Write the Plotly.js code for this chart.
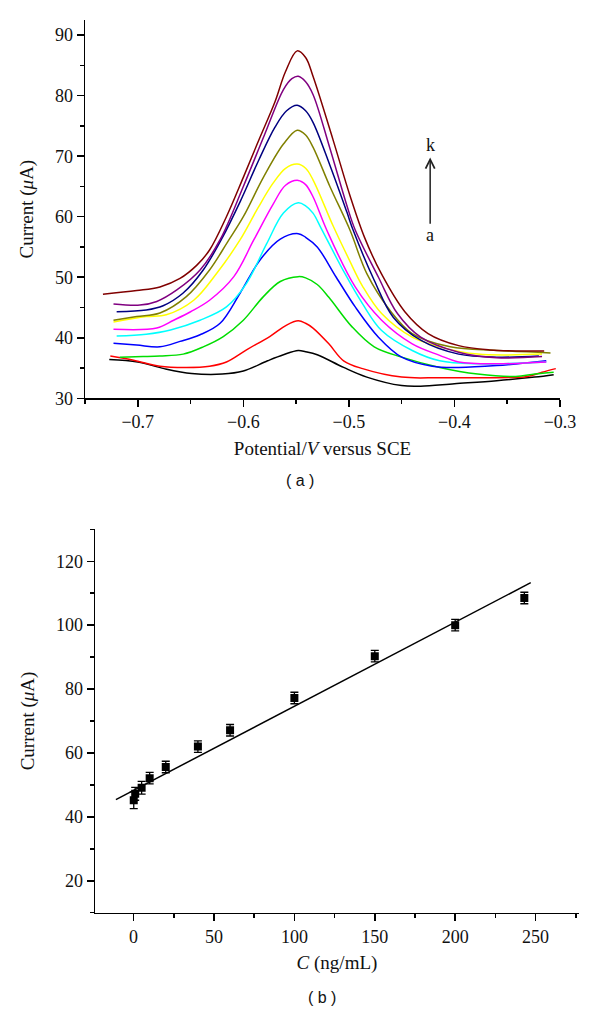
<!DOCTYPE html>
<html>
<head>
<meta charset="utf-8">
<script src="https://cdn.plot.ly/plotly-3.0.1.min.js"></script>
<style>
  body { margin: 0; background: #fff; }
  #chart { width: 600px; height: 1023px; }
</style>
</head>
<body>
<div id="chart"></div>
<script>
// (a) DPV curves a..k, potential (V) vs current (uA)
var xa = [-0.727,-0.700,-0.675,-0.649,-0.620,-0.600,-0.577,-0.562,-0.548,-0.541,-0.530,-0.505,-0.483,-0.450,-0.432,-0.400,-0.360,-0.324,-0.306];
var ya = [36.4,36.0,34.9,34.1,34.0,34.5,36.2,37.2,37.9,37.7,37.2,35.1,33.5,32.1,32.0,32.4,32.9,33.5,33.9];

var xb = [-0.726,-0.704,-0.679,-0.654,-0.632,-0.616,-0.597,-0.575,-0.559,-0.548,-0.541,-0.534,-0.519,-0.505,-0.487,-0.450,-0.414,-0.378,-0.331,-0.317,-0.304];
var yb = [37.0,36.3,35.3,35.1,35.3,36.0,38.0,40.2,42.1,42.8,42.4,41.6,39.0,36.2,34.9,33.5,33.4,33.4,33.6,34.3,34.9];

var xc = [-0.717,-0.695,-0.679,-0.657,-0.638,-0.619,-0.600,-0.581,-0.565,-0.548,-0.541,-0.530,-0.519,-0.497,-0.476,-0.450,-0.414,-0.378,-0.342,-0.324,-0.306];
var yc = [36.8,36.9,37.0,37.3,38.5,40.2,42.9,46.8,49.3,50.1,49.9,48.8,46.7,41.8,38.5,36.8,35.1,34.0,33.6,34.0,34.3];

var xd = [-0.723,-0.701,-0.679,-0.660,-0.641,-0.622,-0.603,-0.584,-0.565,-0.548,-0.541,-0.530,-0.512,-0.494,-0.472,-0.450,-0.421,-0.396,-0.360,-0.313];
var yd = [39.1,38.8,38.5,39.4,40.5,42.4,47.4,52.9,56.3,57.2,56.6,55.0,50.0,45.1,40.1,36.8,35.3,35.1,35.4,36.2];

var xe = [-0.720,-0.692,-0.669,-0.641,-0.616,-0.597,-0.578,-0.562,-0.548,-0.541,-0.534,-0.526,-0.505,-0.487,-0.469,-0.440,-0.414,-0.378,-0.313];
var ye = [40.3,40.6,41.3,42.9,45.1,49.0,55.5,60.6,62.3,61.8,60.6,58.0,51.0,45.6,41.2,37.9,36.2,35.7,36.0];

var xf = [-0.723,-0.682,-0.666,-0.650,-0.632,-0.609,-0.590,-0.572,-0.560,-0.548,-0.541,-0.534,-0.521,-0.494,-0.469,-0.440,-0.414,-0.396,-0.360,-0.313];
var yf = [41.4,41.6,42.9,44.3,46.2,50.1,56.2,62.0,65.2,66.0,65.3,63.3,57.8,48.4,42.9,39.0,37.1,36.0,35.7,36.0];

var xg = [-0.723,-0.692,-0.673,-0.647,-0.625,-0.603,-0.586,-0.572,-0.560,-0.549,-0.541,-0.534,-0.515,-0.500,-0.487,-0.469,-0.440,-0.414,-0.378,-0.317];
var yg = [42.6,43.5,43.8,46.2,50.7,56.2,61.5,65.5,68.0,68.7,68.0,66.1,58.5,53.0,48.5,44.0,40.1,38.5,37.3,37.3];

var xh = [-0.723,-0.701,-0.679,-0.654,-0.632,-0.615,-0.600,-0.581,-0.562,-0.549,-0.541,-0.534,-0.518,-0.499,-0.483,-0.461,-0.440,-0.404,-0.360,-0.309];
var yh = [42.9,43.5,44.1,46.8,51.2,55.8,60.0,66.5,72.0,74.3,73.5,71.5,65.0,57.8,50.6,44.5,40.7,38.5,37.9,37.5];

var xi = [-0.720,-0.692,-0.676,-0.657,-0.638,-0.620,-0.603,-0.585,-0.570,-0.559,-0.549,-0.541,-0.534,-0.518,-0.502,-0.496,-0.476,-0.458,-0.432,-0.396,-0.360,-0.320];
var yi = [44.3,44.6,45.3,47.4,51.2,56.5,62.5,69.5,74.8,77.5,78.4,77.5,75.6,68.5,60.8,57.8,49.5,43.4,39.6,37.3,36.8,37.0];

var xj = [-0.723,-0.698,-0.682,-0.663,-0.641,-0.622,-0.600,-0.580,-0.562,-0.554,-0.548,-0.541,-0.534,-0.518,-0.502,-0.494,-0.472,-0.454,-0.432,-0.396,-0.360,-0.317];
var yj = [45.6,45.4,46.0,47.9,51.2,56.2,65.0,73.5,81.0,82.8,83.2,82.3,80.2,71.3,61.9,57.8,50.0,44.0,40.1,37.6,36.7,36.9];

var xk = [-0.733,-0.701,-0.679,-0.660,-0.644,-0.632,-0.616,-0.600,-0.585,-0.570,-0.560,-0.549,-0.541,-0.534,-0.515,-0.499,-0.485,-0.469,-0.447,-0.425,-0.396,-0.367,-0.315];
var yk = [47.2,47.8,48.4,49.8,52.0,54.5,60.0,66.5,72.8,79.0,84.0,87.4,86.3,83.2,72.7,63.5,56.5,50.5,44.3,40.7,38.7,38.0,37.8];

var curveX = [xa, xb, xc, xd, xe, xf, xg, xh, xi, xj, xk];
var curveY = [ya, yb, yc, yd, ye, yf, yg, yh, yi, yj, yk];
var curveColors = ['#000000','#ff0000','#00dd00','#0000ff','#00ffff','#ff00ff','#ffff00','#808000','#000080','#800080','#800000'];

// (b) calibration: concentration (ng/mL) vs current (uA)
var conc = [0.1, 1, 5, 10, 20, 40, 60, 100, 150, 200, 243];
var current = [45.2, 47.2, 49.1, 52.1, 55.6, 62.0, 67.1, 77.2, 90.3, 100.0, 108.5];
var currentErr = [2.6, 2.0, 2.0, 1.8, 1.8, 1.8, 1.8, 1.8, 1.8, 1.8, 1.8];
var fitX = [-11, 247];
var fitY = [45.4, 113.3];

var serif = '"Liberation Serif", "Times New Roman", serif';
var sans = '"Liberation Sans", Arial, sans-serif';

var data = [];
for (var n = 0; n < curveX.length; n++) {
  data.push({
    x: curveX[n], y: curveY[n], type: 'scatter', mode: 'lines',
    line: {color: curveColors[n], width: 1.5, shape: 'spline', smoothing: 1},
    xaxis: 'x', yaxis: 'y', hoverinfo: 'skip'
  });
}
data.push({
  x: fitX, y: fitY, type: 'scatter', mode: 'lines',
  line: {color: '#000', width: 1.5}, xaxis: 'x2', yaxis: 'y2'
});
data.push({
  x: conc, y: current, type: 'scatter', mode: 'markers',
  marker: {symbol: 'square', size: 8, color: '#000'},
  error_y: {type: 'data', array: currentErr, visible: true, color: '#000', thickness: 1.3, width: 4},
  xaxis: 'x2', yaxis: 'y2'
});

var tickFont = {family: serif, size: 18, color: '#111'};
function axis(opts) {
  var base = {
    showline: true, linecolor: '#000', linewidth: 1.5,
    ticks: 'outside', ticklen: 7, tickwidth: 1.5, tickcolor: '#000',
    showgrid: false, zeroline: false, mirror: false,
    tickfont: tickFont,
    automargin: false
  };
  for (var k in opts) base[k] = opts[k];
  return base;
}
var minorTick = {ticks: 'outside', ticklen: 4, tickwidth: 1.5, tickcolor: '#000'};
function minor(d) { return Object.assign({dtick: d}, minorTick); }
var titleFont = {family: serif, size: 19, color: '#111'};

var layout = {
  width: 600, height: 1023,
  margin: {l: 0, r: 0, t: 0, b: 0},
  paper_bgcolor: '#fff', plot_bgcolor: '#fff',
  font: {family: serif, size: 18, color: '#111'},
  showlegend: false,
  xaxis: axis({
    domain: [85/600, 560/600], range: [-0.75, -0.3], dtick: 0.1, tick0: -0.7,
    minor: minor(0.05), anchor: 'y',
    title: {text: 'Potential/<i>V</i> versus SCE', font: titleFont, standoff: 10}
  }),
  yaxis: axis({
    domain: [1 - 398.3/1023, 1 - 20/1023], range: [30, 92.5], dtick: 10, tick0: 30,
    minor: minor(5), anchor: 'x',
    title: {text: 'Current (<i>μ</i>A)', font: titleFont, standoff: 16}
  }),
  xaxis2: axis({
    domain: [95/600, 579/600], range: [-24, 277], dtick: 50, tick0: 0,
    minor: minor(25), anchor: 'y2',
    title: {text: '<i>C</i> (ng/mL)', font: titleFont, standoff: 10}
  }),
  yaxis2: axis({
    domain: [1 - 912.7/1023, 1 - 529.3/1023], range: [10, 130], dtick: 20, tick0: 0,
    minor: minor(10), anchor: 'x2',
    title: {text: 'Current (<i>μ</i>A)', font: titleFont, standoff: 16}
  }),
  annotations: [
    {x: -0.423, y: 69.8, ax: -0.423, ay: 58.6, xref: 'x', yref: 'y', axref: 'x', ayref: 'y',
     showarrow: true, arrowhead: 5, arrowsize: 1.2, arrowwidth: 1.5, arrowcolor: '#222', text: ''},
    {x: -0.423, y: 71.8, xref: 'x', yref: 'y', text: 'k', showarrow: false,
     font: {family: serif, size: 18, color: '#111'}},
    {x: -0.423, y: 57.0, xref: 'x', yref: 'y', text: 'a', showarrow: false,
     font: {family: serif, size: 18, color: '#111'}},
    {x: 300/600, y: 1 - 480/1023, xref: 'paper', yref: 'paper', text: '( a )', showarrow: false,
     font: {family: sans, size: 16, color: '#111'}},
    {x: 322/600, y: 1 - 1008/1023, xref: 'paper', yref: 'paper', text: '( b )', showarrow: false,
     font: {family: sans, size: 16, color: '#111'}}
  ]
};

Plotly.newPlot('chart', data, layout, {displayModeBar: false, staticPlot: true});
</script>
</body>
</html>
